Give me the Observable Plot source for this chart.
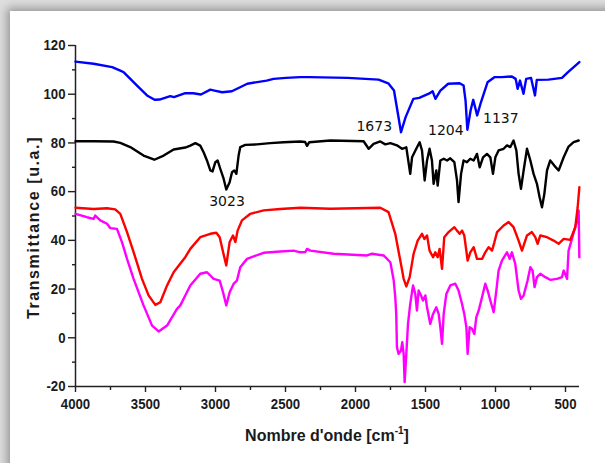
<!DOCTYPE html>
<html><head><meta charset="utf-8">
<script src="https://cdn.jsdelivr.net/npm/d3@7"></script>
<script src="https://cdn.jsdelivr.net/npm/@observablehq/plot@0.6"></script>
<style>
html,body{margin:0;padding:0;width:605px;height:463px;overflow:hidden;background:#dedede;}
#panel{position:absolute;left:10px;top:11px;width:650px;height:520px;background:#fff;box-shadow:0 0 9px 3px rgba(0,0,0,0.33);}
#chart{position:absolute;left:0;top:0;width:605px;height:463px;}
</style></head><body><div id="panel"></div><div id="chart"></div>
<script>
// Tick values
const xMajor = [4000, 3500, 3000, 2500, 2000, 1500, 1000, 500];
const xMinor = [3750, 3250, 2750, 2250, 1750, 1250, 750];
const yMajor = [-20, 0, 20, 40, 60, 80, 100, 120];
const yMinor = [-10, 10, 30, 50, 70, 90, 110];

// Blue spectrum
const blueWn = [4000,3871,3738,3680,3655,3555,3489,3435,3400,3323,3297,3216,3159,3104,3037,3007,2952,2883,2773,2635,2585,2497,2394,2331,2056,1835,1766,1725,1697,1675,1642,1587,1545,1476,1449,1429,1394,1338,1256,1228,1214,1201,1178,1159,1131,1104,1057,1008,953,883,856,842,825,800,781,746,718,705,622,525,484,401];
const blueT  = [113.4,112.5,111.1,109.7,109,103.2,99.5,97.7,97.8,99.2,98.8,100.4,100.4,99.9,101.9,101.5,100.8,101.2,104.3,105.6,106.3,106.7,107,107,106.7,106,104.5,101.5,92,84.4,90.6,98.1,98.5,100.2,101.2,98.1,101.5,104.3,104.5,103.6,97.4,85.4,93.3,97.7,91.3,96.7,104.9,107,107,107.3,106.3,102.2,105.6,100.2,106.3,106.7,99.5,105.9,106,106.7,109,113.2];

// Black spectrum
const blackWn = [4000,3871,3728,3680,3609,3514,3437,3370,3299,3216,3180,3144,3109,3085,3061,3037,3021,3001,2985,2966,2942,2923,2899,2882,2866,2851,2835,2823,2787,2704,2609,2513,2394,2360,2346,2330,2180,1942,1906,1871,1823,1787,1751,1704,1668,1637,1609,1596,1566,1542,1525,1506,1489,1471,1454,1442,1423,1413,1394,1370,1346,1323,1294,1275,1264,1246,1228,1204,1180,1156,1132,1113,1089,1061,1037,1018,1001,978,942,918,894,871,851,835,818,799,775,751,728,704,685,668,651,632,609,580,549,513,478,442,406];
const blackT  = [80.7,80.7,80.6,80,78.3,74.8,73.1,74.8,77.3,78.1,78.9,79.9,78.9,76.2,72.8,68.7,68.3,72.1,72.8,69.4,65.3,60.9,63.9,68,68.7,67.3,74.8,78.3,79.2,79.4,79.9,80.3,80.6,80.4,78.8,80.3,81,80.7,77.6,79.6,80.6,79.4,79.9,79,77.6,78.2,67.3,74.1,77.6,80.3,76.9,64.6,72.8,77.6,72.8,63.2,68.7,62.5,72.8,73.5,72.8,73.7,72.1,64.6,55.7,67.3,72.8,72.1,73.5,72.8,75.5,70,74.1,75.5,74.1,67.3,74.1,76.9,77.6,79,78.3,81,76.9,67.3,61.2,68.7,77.6,72.8,67.3,63.2,57.7,53.6,59.1,68.7,72.8,70.7,68.7,74.1,78.5,80.3,81];

// Red spectrum
const redWn = [4000,3871,3775,3716,3680,3632,3585,3525,3478,3430,3394,3346,3299,3251,3216,3180,3109,3037,2994,2970,2946,2923,2899,2875,2858,2842,2811,2751,2656,2537,2394,2180,1823,1764,1716,1680,1656,1637,1613,1585,1556,1525,1508,1489,1471,1446,1430,1413,1399,1382,1366,1335,1294,1275,1256,1239,1223,1199,1180,1156,1132,1096,1073,1049,1025,1008,989,942,906,871,835,811,775,740,716,699,680,632,585,549,513,466,430,413,401];
const redT  = [53.4,52.9,53.2,52.7,50.9,43.4,35.2,24.2,17.4,13.5,14.6,21.5,26.9,30.5,33.1,36.5,41.3,42.7,43.1,41.3,35.2,29.7,39.3,42,39.3,44,48.2,50.9,52.3,52.9,53.4,53,53.4,51.6,42.7,31.7,24.2,21.1,24.9,34.5,39.9,42.7,40.6,42,35.8,33.1,35.1,33.1,36.5,28.3,41.3,43.4,45.4,44,42.7,44,42,31.7,35.1,37.2,32.4,32.4,35.1,37.2,35.8,39.2,43.4,46.1,47.5,45.4,39.9,35.8,42,43.4,41.3,38.6,42,41.3,39.9,38.6,40.6,40.2,45.4,53.6,61.8];

// Magenta spectrum
const magWn = [4000,3918,3871,3859,3823,3775,3751,3704,3668,3632,3585,3514,3453,3406,3346,3275,3251,3216,3180,3109,3061,3013,2970,2946,2923,2899,2871,2847,2823,2775,2656,2537,2442,2394,2358,2346,2323,2156,1918,1882,1799,1751,1727,1716,1709,1704,1692,1675,1666,1656,1649,1637,1625,1609,1589,1573,1561,1549,1532,1518,1501,1489,1466,1446,1423,1406,1394,1382,1370,1351,1323,1287,1264,1239,1223,1208,1199,1185,1168,1151,1137,1120,1096,1073,1056,1037,1013,994,978,954,918,899,883,859,835,818,799,771,751,735,721,704,680,644,609,561,525,513,489,478,454,424,406,401];
const magT  = [50.9,49.5,48.8,50.2,48.2,46.8,45,44.7,39.3,32.4,24.2,13.3,5,2.6,5,11.9,13.3,17.4,21.5,26.3,26.9,24.2,23.5,18.7,13.3,18.7,22.1,23.5,29,32.4,34.9,35.4,35.8,35.1,35.2,36.5,35.8,34.5,33.8,34.5,33.8,31,23.5,16.7,9.8,-3.9,-6.6,-5.2,-1.8,-6.6,-18.2,-6.6,5.7,13.9,21.5,18,11.2,19.4,17.4,15.3,17.4,12.5,5.7,9.8,12.5,9.8,4.3,-2.5,9.8,18,21.5,22.2,19.4,13.9,9.8,4.3,-6.6,4.3,3.7,1.6,8.5,11.2,16.7,22.2,19.4,15.3,10.5,19.4,27.6,31.7,35.1,32.4,35.1,30.4,19.4,16,17.4,23.5,29,27.6,20.8,24.9,26.3,24.9,23.8,24.2,24.9,27.6,24.2,35.8,40.6,46.8,52.3,33.1];

// Peak annotations
const peakLabels = ["1673", "1204", "1137", "3023"];
const peakLabelWn = [1866, 1355, 962, 2918];
const peakLabelT = [85.1, 83.05, 88, 54.1];

const rows = (wn, t) => wn.map((w, i) => ({w, t: t[i]}));
const axisStroke = "#222";
const fontMain = "'Liberation Sans', Arial, sans-serif";
const lw = 2.4;

const plot = Plot.plot({
  width: 605, height: 463,
  marginLeft: 75, marginRight: 26, marginTop: 45, marginBottom: 77,
  style: {background: "transparent", fontFamily: fontMain, fontSize: "15px", fontWeight: "bold", color: "#1a1a1a", overflow: "visible"},
  x: {domain: [4000, 400], axis: null, label: null},
  y: {domain: [-20, 120], axis: null, label: null},
  marks: [
    Plot.axisX(xMajor, {tickSize: 6, tickPadding: 6, tickFormat: d => String(d), stroke: axisStroke, strokeWidth: 1.4, label: null}),
    Plot.axisX(xMinor, {tickSize: 4, tickFormat: () => "", stroke: axisStroke, strokeWidth: 1.4, label: null}),
    Plot.axisY(yMajor, {tickSize: 7, tickPadding: 3, tickFormat: d => String(d), stroke: axisStroke, strokeWidth: 1.4, label: null}),
    Plot.axisY(yMinor, {tickSize: 3, tickFormat: () => "", stroke: axisStroke, strokeWidth: 1.4, label: null}),
    Plot.ruleX([4000], {stroke: axisStroke, strokeWidth: 1.5}),
    Plot.ruleY([-20], {stroke: axisStroke, strokeWidth: 1.5}),
    Plot.line(rows(magWn, magT), {x: "w", y: "t", stroke: "#ff00ff", strokeWidth: lw}),
    Plot.line(rows(redWn, redT), {x: "w", y: "t", stroke: "#ff0000", strokeWidth: lw}),
    Plot.line(rows(blackWn, blackT), {x: "w", y: "t", stroke: "#000000", strokeWidth: lw}),
    Plot.line(rows(blueWn, blueT), {x: "w", y: "t", stroke: "#0000ff", strokeWidth: lw}),
    Plot.text(peakLabels, {x: peakLabelWn, y: peakLabelT, text: d => d, textAnchor: "middle", lineAnchor: "bottom", fontFamily: "'DejaVu Sans', Verdana, sans-serif", fontWeight: "normal", fontSize: 14, fill: "#111"})
  ]
});

document.getElementById("chart").appendChild(plot);

// Condense the tick labels horizontally (the reference uses narrow bold digits)
d3.select(plot).selectAll("g[aria-label$='tick label'] text").each(function() {
  const t = this.getAttribute("transform");
  if (t) this.setAttribute("transform", t + " scale(0.88,1)");
  else {
    const x = +(this.getAttribute("x") || 0);
    this.setAttribute("transform", `translate(${x},0) scale(0.88,1) translate(${-x},0)`);
  }
});

const svg = d3.select(plot);
svg.append("text")
  .attr("transform", "translate(38.6,227.5) rotate(-90)")
  .attr("text-anchor", "middle")
  .attr("letter-spacing", "1.6")
  .style("font", `bold 16px ${fontMain}`)
  .attr("fill", "#1a1a1a")
  .text("Transmittance [u.a.]");

const xt = svg.append("text")
  .attr("x", 327).attr("y", 440.5)
  .attr("text-anchor", "middle")
  .style("font", `bold 16px ${fontMain}`)
  .attr("fill", "#1a1a1a");
xt.append("tspan").text("Nombre d'onde [cm");
xt.append("tspan").attr("dy", -7).style("font-size", "10px").text("-1");
xt.append("tspan").attr("dy", 7).text("]");
</script></body></html>
